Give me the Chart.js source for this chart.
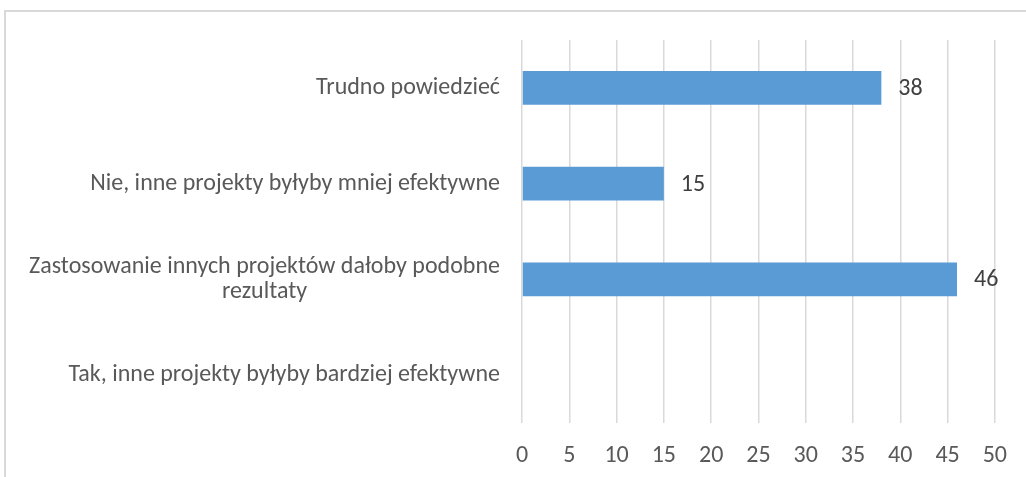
<!DOCTYPE html>
<html>
<head>
<meta charset="utf-8">
<script src="https://cdn.jsdelivr.net/npm/chart.js@4"></script>
<style>
  html, body { margin: 0; padding: 0; background: #ffffff; }
  #wrap { position: relative; width: 1026px; height: 477px; overflow: hidden; }
  #frame {
    position: absolute; left: 4px; top: 10px; width: 1100px; height: 600px;
    border-top: 2px solid #d9d9d9; border-left: 2px solid #d9d9d9;
  }
  #box { position: absolute; left: 0; top: 0; width: 1026px; height: 477px; }
</style>
</head>
<body>
<div id="wrap">
  <div id="frame"></div>
  <div id="box"><canvas id="chart"></canvas></div>
</div>
<script>
const categories = [
  ["Trudno powiedzieć"],
  ["Nie, inne projekty byłyby mniej efektywne"],
  ["Zastosowanie innych projektów dałoby podobne", "rezultaty"],
  ["Tak, inne projekty byłyby bardziej efektywne"]
]
const values = [38, 15, 46, 0]
const xTicks = [0, 5, 10, 15, 20, 25, 30, 35, 40, 45, 50]

const FONT = "Calibri, Carlito, 'Open Sans', sans-serif"
const CAT_SIZE = 24
const NUM_SIZE = 24

// category labels: block right-aligned, lines centered inside the block
const categoryLabels = {
  id: "categoryLabels",
  afterDraw(chart) {
    const { ctx, scales } = chart
    const y = scales.y
    ctx.save()
    ctx.font = `${CAT_SIZE}px ${FONT}`
    ctx.fillStyle = "#595959"
    ctx.textAlign = "center"
    ctx.textBaseline = "middle"
    const lineHeight = 25
    categories.forEach((lines, i) => {
      const cy = y.getPixelForValue(i)
      const w = Math.max(...lines.map(l => ctx.measureText(l).width))
      const cx = 500 - w / 2
      const top = cy - (lines.length - 1) * lineHeight / 2
      lines.forEach((l, j) => ctx.fillText(l, cx, top + j * lineHeight))
    })
    ctx.restore()
  }
}

const valueLabels = {
  id: "valueLabels",
  afterDatasetsDraw(chart) {
    const { ctx } = chart
    const meta = chart.getDatasetMeta(0)
    ctx.save()
    ctx.font = `${NUM_SIZE}px ${FONT}`
    ctx.fillStyle = "#404040"
    ctx.textAlign = "left"
    ctx.textBaseline = "middle"
    meta.data.forEach((bar, i) => {
      if (!values[i]) return
      ctx.fillText(String(values[i]), bar.x + 17, bar.y + 1)
    })
    ctx.restore()
  }
}

new Chart(document.getElementById("chart"), {
  type: "bar",
  data: {
    labels: categories.map(c => c.join(" ")),
    datasets: [{
      data: values,
      backgroundColor: "#5b9bd5",
      borderWidth: 0,
      categoryPercentage: 1,
      barPercentage: 0.355
    }]
  },
  options: {
    indexAxis: "y",
    responsive: true,
    maintainAspectRatio: false,
    animation: false,
    layout: {
      padding: { top: 40, right: 31, bottom: 0, left: 0 }
    },
    plugins: {
      legend: { display: false },
      tooltip: { enabled: false }
    },
    scales: {
      x: {
        min: 0,
        max: 50,
        afterBuildTicks: (scale) => {
          scale.ticks = xTicks.map(v => ({ value: v }))
        },
        afterFit: (scale) => { scale.height = 54 },
        grid: {
          color: "#d9d9d9",
          lineWidth: 1.5,
          drawTicks: false
        },
        border: { display: false },
        ticks: {
          padding: 19,
          color: "#595959",
          font: { family: FONT, size: NUM_SIZE }
        }
      },
      y: {
        grid: { display: false },
        border: { display: false },
        ticks: { display: false },
        afterFit: (scale) => { scale.width = 522 }
      }
    }
  },
  plugins: [categoryLabels, valueLabels]
})
</script>
</body>
</html>
